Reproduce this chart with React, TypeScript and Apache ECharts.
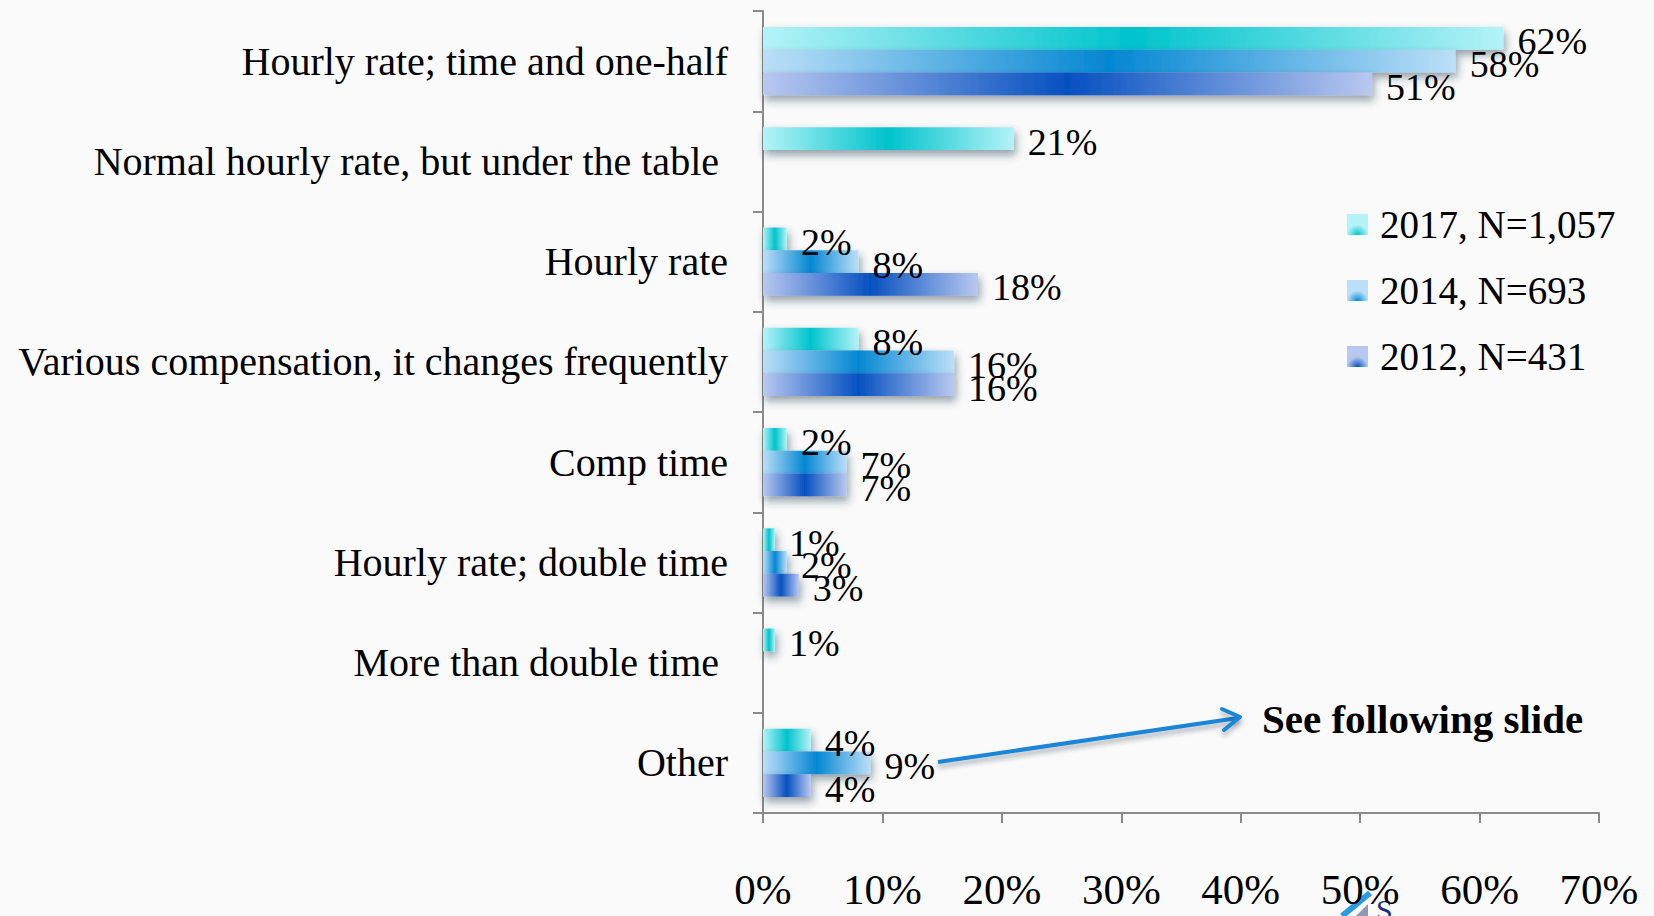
import React, { useEffect, useRef } from "react";
import * as echarts from "echarts";

const categories = [
  "Hourly rate; time and one-half",
  "Normal hourly rate, but under the table",
  "Hourly rate",
  "Various compensation, it changes frequently",
  "Comp time",
  "Hourly rate; double time",
  "More than double time",
  "Other",
];
const paddedCategories = ["Normal hourly rate, but under the table", "More than double time"];

const seriesNames = ["2017, N=1,057", "2014, N=693", "2012, N=431"];
const values2017 = [62, 21, 2, 8, 2, 1, 1, 4];
const values2014 = [58, null, 8, 16, 7, 2, null, 9];
const values2012 = [51, null, 18, 16, 7, 3, null, 4];
const xTicks = [0, 10, 20, 30, 40, 50, 60, 70];

const palette = [
  { light: "#b4f3f7", dark: "#00c3cc" },
  { light: "#bcdff8", dark: "#0487d2" },
  { light: "#b9c8f0", dark: "#0550c0" },
];

const SERIF = "'Liberation Serif', 'DejaVu Serif', serif";

function barGradient(c: { light: string; dark: string }) {
  return new echarts.graphic.LinearGradient(0, 0, 1, 0, [
    { offset: 0, color: c.light },
    { offset: 0.5, color: c.dark },
    { offset: 1, color: c.light },
  ]);
}
function iconGradient(c: { light: string; dark: string }) {
  return new echarts.graphic.RadialGradient(0.5, 1, 0.9, [
    { offset: 0, color: c.dark },
    { offset: 0.55, color: c.light },
    { offset: 1, color: c.light },
  ]);
}

export default function App() {
  const ref = useRef<HTMLDivElement>(null);
  useEffect(() => {
    if (!ref.current) return;
    const chart = echarts.init(ref.current, undefined, { renderer: "svg" });
    const allValues = [values2017, values2014, values2012];
    const series = allValues.map((vals, i) => ({
      name: seriesNames[i],
      type: "bar",
      data: vals,
      barGap: "0%",
      barCategoryGap: "32%",
      itemStyle: {
        color: barGradient(palette[i]),
        shadowColor: "rgba(30,50,70,0.45)",
        shadowBlur: 8,
        shadowOffsetX: 2,
        shadowOffsetY: 5,
      },
      label: {
        show: true,
        position: "right",
        distance: 14,
        offset: [0, 3],
        formatter: "{c}%",
        fontFamily: SERIF,
        fontSize: 38,
        color: "#000",
      },
    }));
    chart.setOption({
      animation: false,
      backgroundColor: "#fafafa",
      grid: { left: 763, top: 11, right: 55, bottom: 103, containLabel: false },
      legend: {
        orient: "vertical",
        left: 1342,
        top: 200,
        itemWidth: 21,
        itemHeight: 21,
        itemGap: 27,
        icon: "rect",
        textStyle: { fontFamily: SERIF, fontSize: 39, color: "#000", padding: [0, 0, 0, 7] },
        data: seriesNames.map((n, i) => ({ name: n, itemStyle: { color: iconGradient(palette[i]) } })),
      },
      xAxis: {
        type: "value",
        min: xTicks[0],
        max: xTicks[xTicks.length - 1],
        interval: 10,
        axisLine: { show: true, lineStyle: { color: "#8a8a8a", width: 2 } },
        axisTick: { show: true, length: 10, lineStyle: { color: "#8a8a8a", width: 2 } },
        splitLine: { show: false },
        axisLabel: {
          formatter: "{value}%",
          fontFamily: SERIF,
          fontSize: 43,
          color: "#000",
          margin: 55,
        },
      },
      yAxis: {
        type: "category",
        inverse: true,
        data: categories,
        axisLine: { show: true, lineStyle: { color: "#8a8a8a", width: 2 } },
        axisTick: { show: true, length: 10, lineStyle: { color: "#8a8a8a", width: 2 } },
        axisLabel: {
          fontFamily: SERIF,
          fontSize: 40,
          color: "#000",
          margin: 35,
          formatter: (v: string) => (paddedCategories.includes(v) ? `{p|${v}}` : v),
          rich: {
            p: { fontFamily: SERIF, fontSize: 40, color: "#000", padding: [0, 9, 0, 0] },
          },
        },
      },
      series,
      graphic: [
        {
          type: "polyline",
          shape: { points: [[938, 762], [1238, 718]] },
          style: {
            stroke: "#1a86d6",
            lineWidth: 4,
            shadowColor: "rgba(20,40,60,0.35)",
            shadowBlur: 5,
            shadowOffsetY: 4,
          },
        },
        {
          type: "polyline",
          shape: { points: [[1222, 709], [1240, 717], [1224, 730]] },
          style: {
            stroke: "#1a86d6",
            fill: null,
            lineWidth: 4,
            lineCap: "round",
            lineJoin: "round",
            shadowColor: "rgba(20,40,60,0.35)",
            shadowBlur: 5,
            shadowOffsetY: 4,
          },
        },
        {
          type: "text",
          x: 1262,
          y: 719,
          style: {
            text: "See following slide",
            fontFamily: SERIF,
            fontWeight: "bold",
            fontSize: 41,
            fill: "#000",
            verticalAlign: "middle",
            align: "left",
          },
        },
        {
          type: "polygon",
          shape: { points: [[1356, 916], [1368, 904], [1368, 916]] },
          style: { fill: "#8e9ab0" },
        },
        {
          type: "line",
          shape: { x1: 1342, y1: 916, x2: 1370, y2: 893 },
          style: { stroke: "#2a9be0", lineWidth: 6 },
        },
        {
          type: "text",
          x: 1376,
          y: 894,
          style: { text: "S", fontFamily: SERIF, fontSize: 30, fill: "#1b2f7a", verticalAlign: "top" },
        },
      ],
    });
    return () => chart.dispose();
  }, []);
  return (
    <div
      ref={ref}
      style={{ position: "absolute", left: 0, top: 0, width: "1654px", height: "916px" }}
    />
  );
}
